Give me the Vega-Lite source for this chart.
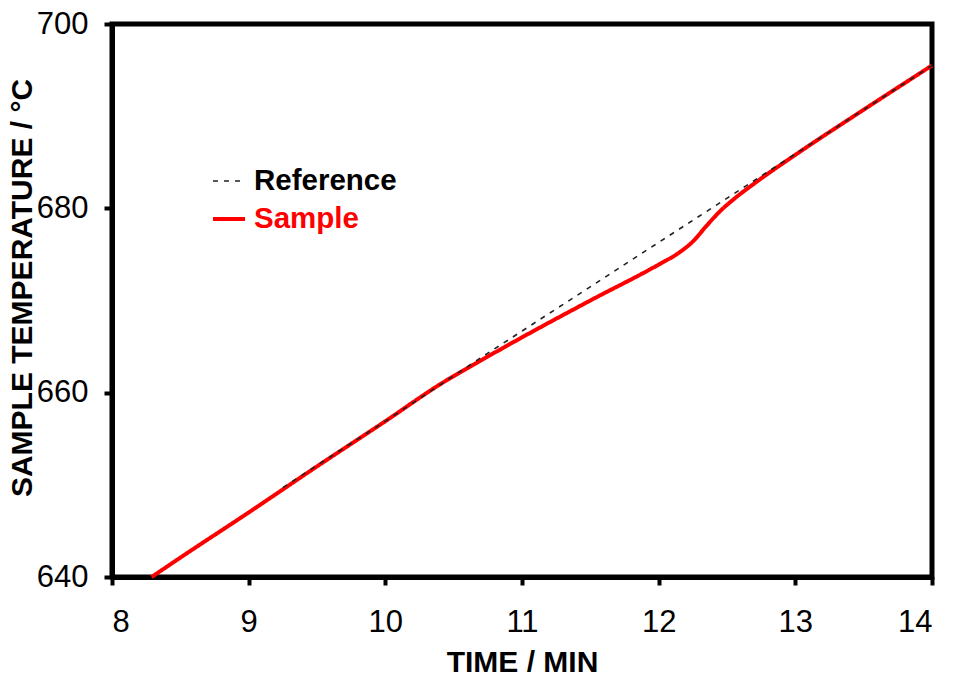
{
  "$schema": "https://vega.github.io/schema/vega-lite/v6.json",
  "width": 820,
  "height": 553,
  "autosize": {"type": "none"},
  "padding": {"left": 112, "top": 24, "right": 22, "bottom": 100},
  "background": "white",
  "config": {
    "font": "Liberation Sans",
    "view": {"stroke": "black", "strokeWidth": 5},
    "axis": {
      "grid": false,
      "domainColor": "black",
      "domainWidth": 5,
      "tickColor": "black",
      "tickWidth": 4,
      "tickSize": 8,
      "labelFont": "Liberation Sans",
      "labelFontSize": 31,
      "labelColor": "black",
      "titleFont": "Liberation Sans",
      "titleFontSize": 30,
      "titleFontWeight": "bold",
      "titleColor": "black"
    }
  },
  "data": {
    "values": [
      {"t": 8.29, "T": 640.0, "series": "Sample"},
      {"t": 8.5, "T": 642.1, "series": "Sample"},
      {"t": 9.0, "T": 647.0, "series": "Sample"},
      {"t": 9.5, "T": 652.0, "series": "Sample"},
      {"t": 10.0, "T": 656.9, "series": "Sample"},
      {"t": 10.4, "T": 660.9, "series": "Sample"},
      {"t": 10.7, "T": 663.5, "series": "Sample"},
      {"t": 11.0, "T": 666.0, "series": "Sample"},
      {"t": 11.5, "T": 670.0, "series": "Sample"},
      {"t": 12.0, "T": 673.9, "series": "Sample"},
      {"t": 12.15, "T": 675.2, "series": "Sample"},
      {"t": 12.25, "T": 676.4, "series": "Sample"},
      {"t": 12.35, "T": 678.1, "series": "Sample"},
      {"t": 12.45, "T": 679.7, "series": "Sample"},
      {"t": 12.55, "T": 681.0, "series": "Sample"},
      {"t": 12.7, "T": 682.7, "series": "Sample"},
      {"t": 13.0, "T": 685.8, "series": "Sample"},
      {"t": 13.5, "T": 690.7, "series": "Sample"},
      {"t": 14.0, "T": 695.5, "series": "Sample"},
      {"t": 9.25, "T": 649.7, "series": "Reference"},
      {"t": 10.0, "T": 656.9, "series": "Reference"},
      {"t": 10.7, "T": 663.8, "series": "Reference"},
      {"t": 12.0, "T": 676.3, "series": "Reference"},
      {"t": 13.0, "T": 685.9, "series": "Reference"},
      {"t": 14.0, "T": 695.5, "series": "Reference"}
    ]
  },
  "encoding": {
    "x": {
      "field": "t", "type": "quantitative",
      "scale": {"domain": [8, 14], "nice": false, "zero": false},
      "axis": {"values": [8, 9, 10, 11, 12, 13, 14], "title": "TIME / MIN", "labelPadding": 22, "titleX": 410, "titleY": 85, "titleBaseline": "middle", "titleAlign": "center"}
    },
    "y": {
      "field": "T", "type": "quantitative",
      "scale": {"domain": [640, 700], "nice": false, "zero": false},
      "axis": {"values": [640, 660, 680, 700], "title": "SAMPLE TEMPERATURE / °C", "labelPadding": 16, "titleX": -90, "titleY": 263.5, "titleBaseline": "middle", "titleAlign": "center", "titleAngle": 270}
    },
    "color": {
      "field": "series", "type": "nominal",
      "scale": {"domain": ["Reference", "Sample"], "range": ["#222222", "#ff0000"]},
      "legend": {
        "title": null,
        "orient": "none",
        "legendX": 99,
        "legendY": 140,
        "symbolType": "stroke",
        "symbolSize": 1024,
        "labelFontSize": 29.5,
        "labelFontWeight": "bold",
        "labelFont": "Liberation Sans",
        "labelOffset": 7,
        "rowPadding": 5,
        "encode": {
          "labels": {"update": {"fill": {"signal": "datum.value === 'Sample' ? '#ff0000' : '#000000'"}}}
        }
      }
    },
    "strokeDash": {
      "field": "series", "type": "nominal",
      "scale": {"domain": ["Reference", "Sample"], "range": [[5, 6], [1, 0]]},
      "legend": null
    },
    "strokeWidth": {
      "field": "series", "type": "nominal",
      "scale": {"domain": ["Reference", "Sample"], "range": [1.6, 4]},
      "legend": null
    }
  },
  "layer": [
    {"transform": [{"filter": "datum.series === 'Sample'"}], "mark": {"type": "line", "interpolate": "monotone"}},
    {"transform": [{"filter": "datum.series === 'Reference'"}], "mark": {"type": "line"}}
  ]
}
